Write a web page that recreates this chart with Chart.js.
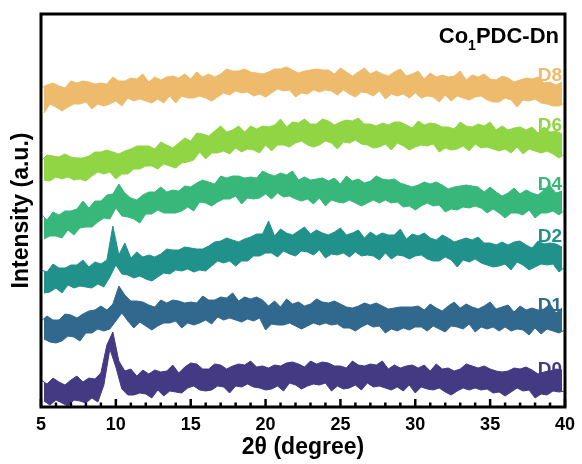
<!DOCTYPE html>
<html>
<head>
<meta charset="utf-8">
<script src="https://cdn.jsdelivr.net/npm/chart.js@4.4.1/dist/chart.umd.min.js"></script>
<style>
  html, body { margin: 0; padding: 0; background: #fff; }
  #wrap { width: 582px; height: 464px; }
</style>
</head>
<body>
<div id="wrap"><canvas id="xrd" width="582" height="464"></canvas></div>
<script>
// measurement grid, 2theta in degrees
const THETA_START = 5;
const THETA_STEP = 0.2;
const twoTheta = [];
for (let i = 0; i < 176; i++) twoTheta.push(+(THETA_START + i * THETA_STEP).toFixed(1));

const xTickValues = [5, 10, 15, 20, 25, 30, 35, 40];

// intensities (a.u., stacked offsets).
// noise alternates: even points are the upper spikes, odd points the lower ones
const d0 = [27,6,23,2,29,7,25,4,22,1,
  27,7,31,6,25,4,29,9,28,5,
  34,22,62,58,75,40,46,18,36,12,
  38,12,31,14,37,13,33,9,37,17,
  35,11,36,16,42,15,34,14,40,19,
  44,21,43,17,38,16,38,17,43,21,
  42,20,38,14,41,21,43,20,42,23,
  46,20,40,19,41,17,39,18,42,21,
  41,16,44,24,45,22,43,18,40,21,
  46,23,43,22,45,24,44,16,41,21,
  41,18,39,19,46,22,42,17,41,24,
  43,20,42,21,46,19,38,17,42,20,
  39,16,41,22,42,14,39,20,42,18,
  36,17,43,19,38,15,39,12,36,16,
  38,19,43,17,41,19,39,17,41,18,
  38,14,36,15,35,11,36,15,39,19,
  38,16,40,17,37,9,33,13,35,12,
  36,16,38,15,37,16];

const d1 = [86,68,91,65,87,64,87,66,93,71,
  92,70,89,66,93,74,96,74,97,78,
  101,76,97,78,103,86,121,94,112,86,
  106,79,106,85,105,81,102,77,100,81,
  107,84,104,84,107,86,106,79,104,84,
  105,82,104,84,111,87,107,83,107,90,
  110,87,109,89,114,87,106,85,110,88,
  108,86,110,89,107,77,101,83,106,82,
  100,82,108,84,103,81,105,78,101,81,
  103,84,108,82,105,84,104,82,106,83,
  103,79,100,79,99,76,101,80,104,83,
  102,80,104,81,101,74,98,78,99,76,
  100,79,100,77,100,80,101,80,97,76,
  103,81,99,78,96,75,101,81,105,80,
  99,78,103,83,100,75,98,80,101,78,
  105,80,98,76,100,80,102,76,95,78,
  101,77,97,72,99,79,97,73,98,78,
  103,76,94,74,99,77];

const d2 = [137,114,135,115,143,119,139,114,139,122,
  142,119,142,121,147,120,140,119,145,123,
  143,120,147,130,181,142,152,133,164,132,
  149,129,155,131,150,128,152,126,150,130,
  153,134,158,133,157,137,157,136,160,138,
  159,135,158,137,158,136,161,141,165,146,
  166,144,169,146,167,141,165,146,168,146,
  170,151,173,151,173,154,186,154,171,150,
  178,156,174,153,172,151,176,156,180,155,
  173,152,177,157,174,149,172,153,175,152,
  179,154,172,150,174,155,177,151,169,152,
  175,151,171,147,174,154,172,148,172,152,
  178,151,168,148,173,151,171,152,174,148,
  169,146,167,146,172,150,169,147,165,140,
  167,147,169,145,167,148,170,144,164,142,
  164,140,162,141,165,143,162,137,165,145,
  166,142,162,137,159,140,166,143,163,142,
  164,143,163,135,160,140];

const d4 = [193,168,187,171,195,171,192,169,196,177,
  196,172,198,179,206,180,199,180,206,185,
  206,189,212,188,213,199,223,191,214,190,
  209,188,207,184,212,193,215,193,215,197,
  220,194,215,194,217,194,216,196,221,200,
  220,196,224,205,227,204,225,201,223,205,
  231,208,229,208,231,211,231,203,229,209,
  230,208,229,209,236,213,233,208,231,214,
  234,210,232,211,236,208,227,206,230,208,
  227,203,228,209,229,201,226,207,229,205,
  223,204,231,207,226,204,228,201,224,204,
  226,207,231,204,228,207,227,204,228,205,
  224,200,222,201,220,197,222,201,225,204,
  223,201,225,202,222,195,218,198,220,197,
  221,200,222,199,221,201,220,199,215,194,
  220,198,215,194,211,189,214,194,219,194,
  213,192,217,197,214,189,212,194,217,194,
  221,196,214,192,216,197];

const d6 = [246,227,252,226,251,230,250,228,253,230,
  250,227,249,228,249,226,251,231,255,235,
  255,233,257,235,255,228,253,233,256,233,
  258,238,261,238,261,241,261,241,258,238,
  265,243,262,241,259,239,264,244,269,245,
  266,247,274,255,273,248,271,254,276,254,
  281,256,275,253,277,259,281,255,275,258,
  281,257,278,254,281,262,280,256,282,262,
  288,262,280,260,285,264,284,266,288,262,
  283,260,283,262,288,266,286,264,282,258,
  285,265,287,264,286,267,289,263,283,262,
  283,259,281,260,284,263,282,257,285,264,
  285,261,282,257,279,260,286,262,282,261,
  284,263,283,255,280,259,280,257,278,258,
  285,261,281,256,280,263,283,259,281,260,
  285,258,277,256,281,258,277,254,279,260,
  280,253,277,258,280,256,274,254,280,256,
  275,253,276,249,273,253];

const d8 = [319,294,322,303,324,300,321,296,319,300,
  326,303,324,303,326,305,325,298,323,303,
  324,301,323,303,330,306,326,301,326,309,
  329,306,328,308,333,306,325,304,330,308,
  327,304,330,311,331,304,329,311,333,309,
  328,309,335,311,330,309,333,306,330,310,
  333,314,338,312,336,316,336,314,338,315,
  335,311,334,313,333,310,335,314,338,318,
  338,316,340,317,337,310,334,314,336,313,
  337,317,338,315,337,317,337,316,333,312,
  339,317,335,313,331,310,335,315,339,314,
  333,311,336,316,333,308,331,313,335,311,
  338,313,331,309,333,314,336,309,328,311,
  334,310,330,305,332,312,330,306,331,311,
  336,309,327,307,332,310,330,311,333,307,
  328,305,327,305,331,309,329,307,325,300,
  327,307,329,306,328,308,330,304,324,303,
  325,301,322,301,325,304];

const sampleNames = ['D0', 'D1', 'D2', 'D4', 'D6', 'D8'];
const sampleSeries = [d0, d1, d2, d4, d6, d8];

// styling
const sampleColors = ['#443A83', '#31688E', '#21918C', '#38B77A', '#90D543', '#EDBB6B'];
const labelLevels = [32, 96, 165, 217, 276, 326]; // baseline of each name, in intensity units
const FONT = "'Liberation Sans', Arial, Helvetica, sans-serif";

const frameAndTicks = {
    id: 'frameAndTicks',
    afterDatasetsDraw(chart) {
        const { ctx, chartArea: a } = chart;
        const x = chart.scales.x;
        ctx.save();
        ctx.strokeStyle = '#000';
        ctx.lineWidth = 3;
        ctx.strokeRect(a.left, a.top, a.right - a.left, a.bottom - a.top);
        // inward ticks, major every 5, minor every 1
        ctx.lineWidth = 2.5;
        for (let t = 5; t <= 40; t++) {
            const px = x.getPixelForValue(t);
            const len = t % 5 === 0 ? 8 : 4.5;
            ctx.beginPath();
            ctx.moveTo(px, a.bottom);
            ctx.lineTo(px, a.bottom - len);
            ctx.stroke();
        }
        ctx.restore();
    }
};

const textMarks = {
    id: 'textMarks',
    afterDraw(chart) {
        const { ctx, chartArea: a } = chart;
        const y = chart.scales.y;
        ctx.save();
        ctx.textBaseline = 'alphabetic';

        // sample names at the right end of each pattern
        ctx.font = `bold 19px ${FONT}`;
        ctx.textAlign = 'right';
        sampleNames.forEach((name, i) => {
            ctx.fillStyle = sampleColors[i];
            ctx.fillText(name, a.right - 3, y.getPixelForValue(labelLevels[i]));
        });

        // title Co1PDC-Dn with subscript
        ctx.textAlign = 'left';
        ctx.fillStyle = '#000';
        const big = `bold 22px ${FONT}`;
        const small = `bold 14px ${FONT}`;
        ctx.font = big;
        const wCo = ctx.measureText('Co').width;
        const wRest = ctx.measureText('PDC-Dn').width;
        ctx.font = small;
        const w1 = ctx.measureText('1').width;
        let tx = a.right - 6 - (wCo + w1 + wRest);
        const base = 43;
        ctx.font = big;
        ctx.fillText('Co', tx, base);
        tx += wCo;
        ctx.font = small;
        ctx.fillText('1', tx, base + 7);
        tx += w1;
        ctx.font = big;
        ctx.fillText('PDC-Dn', tx, base);
        ctx.restore();
    }
};

// each pattern: lower spikes line, then upper spikes line filled down to it
const datasets = [];
sampleSeries.forEach((vals, i) => {
    const pts = vals.map((v, k) => ({ x: twoTheta[k], y: v }));
    datasets.push({
        label: sampleNames[i] + ' low',
        data: pts.filter((p, k) => k % 2 === 1),
        borderColor: sampleColors[i],
        borderWidth: 1,
        pointRadius: 0,
        tension: 0,
        fill: false
    });
    datasets.push({
        label: sampleNames[i],
        data: pts.filter((p, k) => k % 2 === 0),
        borderColor: sampleColors[i],
        backgroundColor: sampleColors[i],
        borderWidth: 1,
        pointRadius: 0,
        tension: 0,
        fill: '-1'
    });
});

const ctx = document.getElementById('xrd').getContext('2d');
new Chart(ctx, {
    type: 'line',
    data: { datasets },
    options: {
        responsive: false,
        animation: false,
        devicePixelRatio: 1,
        layout: { padding: { top: 14, right: 13, left: 0, bottom: 0 } },
        plugins: {
            legend: { display: false },
            tooltip: { enabled: false }
        },
        scales: {
            x: {
                type: 'linear',
                min: 5,
                max: 40,
                afterBuildTicks: (s) => { s.ticks = xTickValues.map(v => ({ value: v })); },
                grid: { display: false, drawTicks: false },
                border: { display: false },
                ticks: {
                    color: '#000',
                    padding: 7,
                    maxRotation: 0,
                    font: { family: FONT, size: 18, weight: 'bold' }
                },
                title: {
                    display: true,
                    text: '2θ (degree)',
                    color: '#000',
                    font: { family: FONT, size: 23, weight: 'bold' },
                    padding: { top: 0, bottom: 3 }
                },
                afterFit: (s) => { s.height = 57; }
            },
            y: {
                min: 0,
                max: 393,
                ticks: { display: false },
                grid: { display: false, drawTicks: false },
                border: { display: false },
                title: {
                    display: true,
                    text: 'Intensity (a.u.)',
                    color: '#000',
                    font: { family: FONT, size: 23, weight: 'bold' },
                    padding: { top: 8, bottom: 0 }
                },
                afterFit: (s) => { s.width = 41; }
            }
        }
    },
    plugins: [frameAndTicks, textMarks]
});
</script>
</body>
</html>
